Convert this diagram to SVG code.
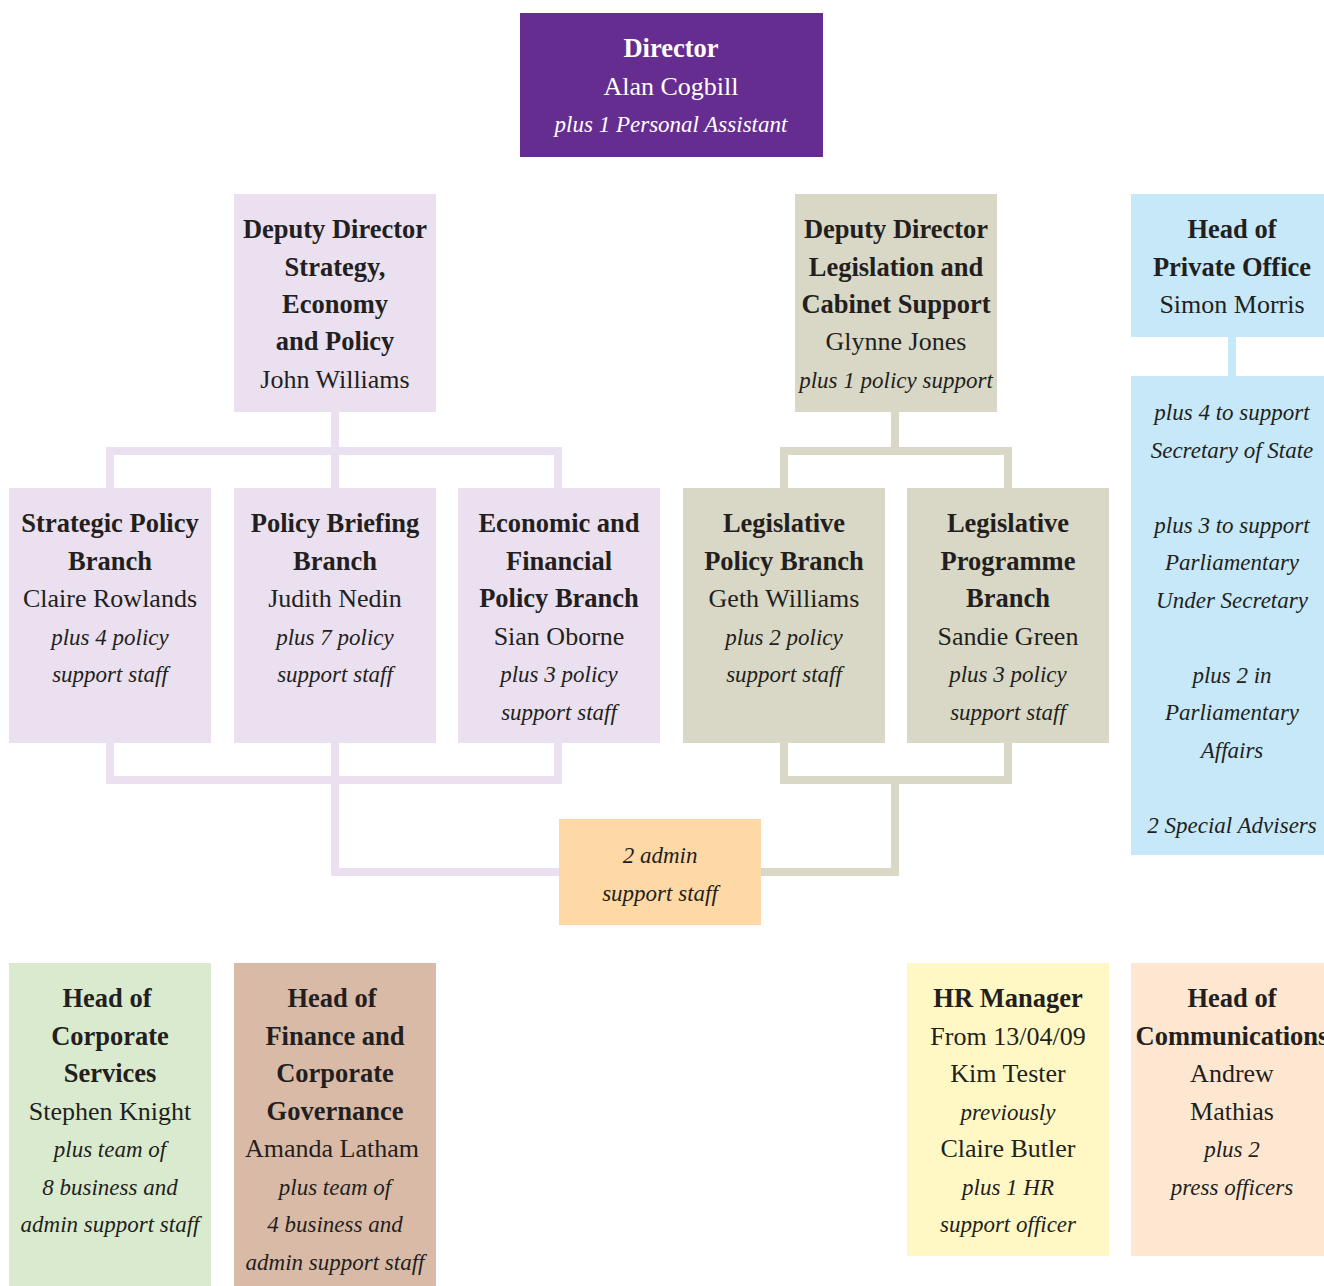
<svg xmlns="http://www.w3.org/2000/svg" width="1324" height="1286" viewBox="0 0 1324 1286">
<style>
text{font-family:"Liberation Serif","Times New Roman",serif;fill:#231f20;text-anchor:middle}
.b{font-weight:bold;font-size:26.5px}
.r{font-size:26px}
.i{font-style:italic;font-size:23px}
.w{fill:#ffffff}
.lil{fill:none;stroke:#ebe0ef;stroke-width:8}
.tan{fill:none;stroke:#d9d8c6;stroke-width:8}
.blu{fill:none;stroke:#c6e8f8;stroke-width:8}
</style>
<rect width="1324" height="1286" fill="#ffffff"/>
<g id="connectors">
<path class="lil" d="M335 412V451M110 488V451H558V488M335 451V488"/>
<path class="lil" d="M110 743V780H558V743M335 743V872H559"/>
<path class="tan" d="M895 412V451M784 488V451H1008V488"/>
<path class="tan" d="M784 743V780H1008V743M895 780V872H761"/>
<path class="blu" d="M1232 337V376"/>
</g>
<g id="director">
<rect x="520" y="13" width="303" height="144" fill="#662d91"/>
<text class="b w" x="671" y="57">Director</text>
<text class="r w" x="671" y="95">Alan Cogbill</text>
<text class="i w" x="671" y="132">plus 1 Personal Assistant</text>
</g>
<g id="dd-strategy">
<rect x="234" y="194" width="202" height="218" fill="#ebe0ef"/>
<text class="b" x="335" y="238">Deputy Director</text>
<text class="b" x="335" y="276">Strategy,</text>
<text class="b" x="335" y="313">Economy</text>
<text class="b" x="335" y="350">and Policy</text>
<text class="r" x="335" y="388">John Williams</text>
</g>
<g id="dd-legislation">
<rect x="795" y="194" width="202" height="218" fill="#d9d8c6"/>
<text class="b" x="896" y="238">Deputy Director</text>
<text class="b" x="896" y="276">Legislation and</text>
<text class="b" x="896" y="313">Cabinet Support</text>
<text class="r" x="896" y="350">Glynne Jones</text>
<text class="i" x="896" y="388">plus 1 policy support</text>
</g>
<g id="private-office">
<rect x="1131" y="194" width="202" height="143" fill="#c6e8f8"/>
<text class="b" x="1232" y="238">Head of</text>
<text class="b" x="1232" y="276">Private Office</text>
<text class="r" x="1232" y="313">Simon Morris</text>
</g>
<g id="private-office-staff">
<rect x="1131" y="376" width="202" height="479" fill="#c6e8f8"/>
<text class="i" x="1232" y="420">plus 4 to support</text>
<text class="i" x="1232" y="457.5">Secretary of State</text>
<text class="i" x="1232" y="532.5">plus 3 to support</text>
<text class="i" x="1232" y="570">Parliamentary</text>
<text class="i" x="1232" y="607.5">Under Secretary</text>
<text class="i" x="1232" y="682.5">plus 2 in</text>
<text class="i" x="1232" y="720">Parliamentary</text>
<text class="i" x="1232" y="757.5">Affairs</text>
<text class="i" x="1232" y="832.5">2 Special Advisers</text>
</g>
<g id="strategic-policy">
<rect x="9" y="488" width="202" height="255" fill="#ebe0ef"/>
<text class="b" x="110" y="532">Strategic Policy</text>
<text class="b" x="110" y="569.5">Branch</text>
<text class="r" x="110" y="607">Claire Rowlands</text>
<text class="i" x="110" y="644.5">plus 4 policy</text>
<text class="i" x="110" y="682">support staff</text>
</g>
<g id="policy-briefing">
<rect x="234" y="488" width="202" height="255" fill="#ebe0ef"/>
<text class="b" x="335" y="532">Policy Briefing</text>
<text class="b" x="335" y="569.5">Branch</text>
<text class="r" x="335" y="607">Judith Nedin</text>
<text class="i" x="335" y="644.5">plus 7 policy</text>
<text class="i" x="335" y="682">support staff</text>
</g>
<g id="economic-financial">
<rect x="458" y="488" width="202" height="255" fill="#ebe0ef"/>
<text class="b" x="559" y="532">Economic and</text>
<text class="b" x="559" y="569.5">Financial</text>
<text class="b" x="559" y="607">Policy Branch</text>
<text class="r" x="559" y="644.5">Sian Oborne</text>
<text class="i" x="559" y="682">plus 3 policy</text>
<text class="i" x="559" y="719.5">support staff</text>
</g>
<g id="legislative-policy">
<rect x="683" y="488" width="202" height="255" fill="#d9d8c6"/>
<text class="b" x="784" y="532">Legislative</text>
<text class="b" x="784" y="569.5">Policy Branch</text>
<text class="r" x="784" y="607">Geth Williams</text>
<text class="i" x="784" y="644.5">plus 2 policy</text>
<text class="i" x="784" y="682">support staff</text>
</g>
<g id="legislative-programme">
<rect x="907" y="488" width="202" height="255" fill="#d9d8c6"/>
<text class="b" x="1008" y="532">Legislative</text>
<text class="b" x="1008" y="569.5">Programme</text>
<text class="b" x="1008" y="607">Branch</text>
<text class="r" x="1008" y="644.5">Sandie Green</text>
<text class="i" x="1008" y="682">plus 3 policy</text>
<text class="i" x="1008" y="719.5">support staff</text>
</g>
<g id="admin-support">
<rect x="559" y="819" width="202" height="106" fill="#fed9a6"/>
<text class="i" x="660" y="863">2 admin</text>
<text class="i" x="660" y="900.5">support staff</text>
</g>
<g id="corporate-services">
<rect x="9" y="963" width="202" height="323" fill="#d9eacf"/>
<text class="b" x="107" y="1007">Head of</text>
<text class="b" x="110" y="1044.5">Corporate</text>
<text class="b" x="110" y="1082">Services</text>
<text class="r" x="110" y="1119.5">Stephen Knight</text>
<text class="i" x="110" y="1157">plus team of</text>
<text class="i" x="110" y="1194.5">8 business and</text>
<text class="i" x="110" y="1232">admin support staff</text>
</g>
<g id="finance-governance">
<rect x="234" y="963" width="202" height="323" fill="#d9baa7"/>
<text class="b" x="332" y="1007">Head of</text>
<text class="b" x="335" y="1044.5">Finance and</text>
<text class="b" x="335" y="1082">Corporate</text>
<text class="b" x="335" y="1119.5">Governance</text>
<text class="r" x="332" y="1157">Amanda Latham</text>
<text class="i" x="335" y="1194.5">plus team of</text>
<text class="i" x="335" y="1232">4 business and</text>
<text class="i" x="335" y="1269.5">admin support staff</text>
</g>
<g id="hr-manager">
<rect x="907" y="963" width="202" height="293" fill="#fff8c5"/>
<text class="b" x="1008" y="1007">HR Manager</text>
<text class="r" x="1008" y="1044.5">From 13/04/09</text>
<text class="r" x="1008" y="1082">Kim Tester</text>
<text class="i" x="1008" y="1119.5">previously</text>
<text class="r" x="1008" y="1157">Claire Butler</text>
<text class="i" x="1008" y="1194.5">plus 1 HR</text>
<text class="i" x="1008" y="1232">support officer</text>
</g>
<g id="communications">
<rect x="1131" y="963" width="202" height="293" fill="#fee7d0"/>
<text class="b" x="1232" y="1007">Head of</text>
<text class="b" x="1232" y="1044.5">Communications</text>
<text class="r" x="1232" y="1082">Andrew</text>
<text class="r" x="1232" y="1119.5">Mathias</text>
<text class="i" x="1232" y="1157">plus 2</text>
<text class="i" x="1232" y="1194.5">press officers</text>
</g>
</svg>
